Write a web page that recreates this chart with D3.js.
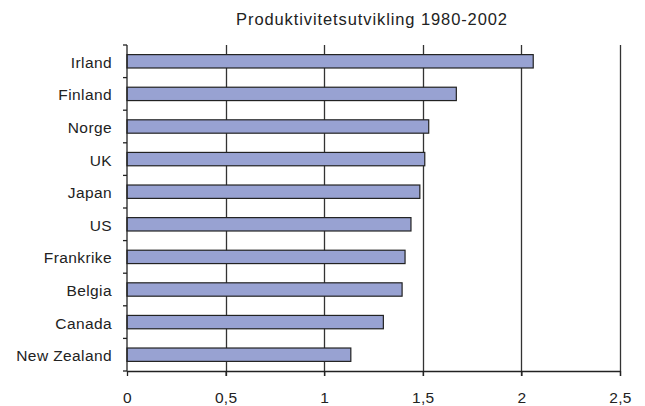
<!DOCTYPE html>
<html><head><meta charset="utf-8">
<script src="https://cdn.jsdelivr.net/npm/d3@7"></script>
<style>body{margin:0;background:#fff;} text{font-family:"Liberation Sans",Arial,sans-serif;}</style>
</head><body><svg id="c" width="645" height="406"></svg>
<script>
const title = "Produktivitetsutvikling 1980-2002";
const countries = ["Irland","Finland","Norge","UK","Japan","US","Frankrike","Belgia","Canada","New Zealand"];
const values = [2.06,1.67,1.53,1.51,1.485,1.44,1.41,1.395,1.30,1.135];
const xTicks = [0,0.5,1,1.5,2,2.5];
const xTickLabels = ["0","0,5","1","1,5","2","2,5"];

const svg = d3.select("#c");
const L=127, R=620, T=45, B=371;
const x = d3.scaleLinear().domain([0,2.5]).range([L,R]);
const y = d3.scaleBand().domain(countries).range([T,B]).paddingInner(0.59).paddingOuter(0.295);

// gridlines
svg.append("g").selectAll("line").data(xTicks.slice(1)).join("line")
  .attr("x1",d=>Math.round(x(d))+0.5).attr("x2",d=>Math.round(x(d))+0.5)
  .attr("y1",T).attr("y2",B+5).attr("stroke","#333").attr("stroke-width",1.3);

// bars
svg.append("g").selectAll("rect").data(countries).join("rect")
  .attr("x",x(0)).attr("y",d=>y(d)).attr("width",(d,i)=>x(values[i])-x(0)).attr("height",y.bandwidth())
  .attr("fill","#98a2d2").attr("stroke","#222").attr("stroke-width",1.2);

// x axis
const xa = svg.append("g").attr("transform",`translate(0,${B})`)
  .call(d3.axisBottom(x).tickValues(xTicks).tickFormat((d,i)=>xTickLabels[i]).tickSize(5).tickSizeOuter(0).tickPadding(16));
xa.select(".domain").attr("stroke","#222").attr("stroke-width",1.3);
xa.selectAll(".tick line").attr("stroke","#222").attr("stroke-width",1.3);
xa.selectAll("text").attr("font-size",15.5).attr("fill","#222").attr("letter-spacing",0.3).style("font-family","Liberation Sans, Arial, sans-serif");

// y axis with ticks at band boundaries
const ya = svg.append("g").attr("transform",`translate(${L},0)`);
const yEdges = d3.scaleLinear().domain([0,countries.length]).range([T,B]);
ya.append("line").attr("x1",0).attr("x2",0).attr("y1",T).attr("y2",B).attr("stroke","#222").attr("stroke-width",1.3);
ya.selectAll("line.t").data(d3.range(countries.length+1)).join("line").attr("class","t")
  .attr("x1",-4).attr("x2",0).attr("y1",d=>yEdges(d)).attr("y2",d=>yEdges(d)).attr("stroke","#222").attr("stroke-width",1.3);
ya.selectAll("text").data(countries).join("text")
  .attr("x",-15).attr("y",d=>y(d)+y.bandwidth()/2+1).attr("dy","0.35em")
  .attr("text-anchor","end").attr("font-size",15.5).attr("letter-spacing",0.4).attr("fill","#222").text(d=>d);

svg.append("text").attr("x",372).attr("y",25).attr("text-anchor","middle")
  .attr("font-size",16.5).attr("letter-spacing",0.9).attr("fill","#222").text(title);
</script></body></html>
